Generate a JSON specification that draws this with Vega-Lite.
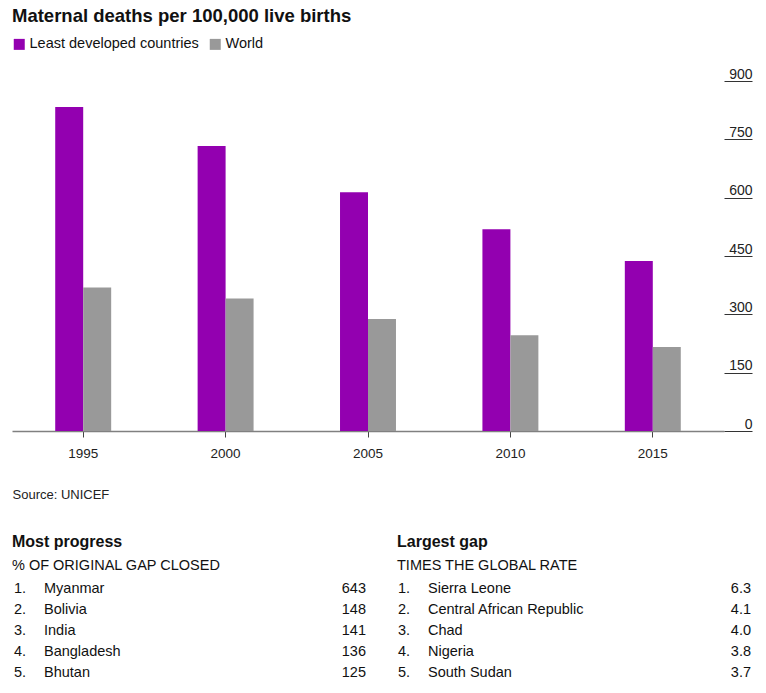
{
  "$schema": "https://vega.github.io/schema/vega-lite/v6.json",
  "padding": {"left": 12, "top": 6, "right": 0, "bottom": 0},
  "background": "white",
  "title": {"text": "Maternal deaths per 100,000 live births", "anchor": "start", "fontSize": 18.5, "fontWeight": "bold", "color": "#111111", "offset": 12},
  "config": {
    "font": "Liberation Sans",
    "view": {"stroke": null},
    "legend": {"symbolType": "square", "symbolSize": 121, "symbolStrokeWidth": 0, "labelFontSize": 14.5, "labelColor": "#111111", "labelOffset": 3, "labelLimit": 0, "columnPadding": 9, "offset": 16}
  },
  "spacing": 31,
  "vconcat": [
    {
      "width": 712,
      "height": 350,
      "data": {"values": [
        {"year": "1995", "series": "Least developed countries", "value": 833},
        {"year": "2000", "series": "Least developed countries", "value": 733},
        {"year": "2005", "series": "Least developed countries", "value": 614},
        {"year": "2010", "series": "Least developed countries", "value": 519},
        {"year": "2015", "series": "Least developed countries", "value": 437},
        {"year": "1995", "series": "World", "value": 369},
        {"year": "2000", "series": "World", "value": 341},
        {"year": "2005", "series": "World", "value": 288},
        {"year": "2010", "series": "World", "value": 246},
        {"year": "2015", "series": "World", "value": 216}
      ]},
      "mark": {"type": "bar"},
      "encoding": {
        "x": {"field": "year", "type": "nominal", "scale": {"paddingInner": 0.607, "paddingOuter": 0.3035},
          "axis": {"labelAngle": 0, "title": "Source: UNICEF", "labelFontSize": 13.5, "labelColor": "#222222", "tickSize": 6, "tickColor": "#444444", "domainColor": "#808080", "domainWidth": 1.5, "labelPadding": 9, "titleFontSize": 13, "titleFontWeight": "normal", "titleAnchor": "start", "titleAlign": "left", "titlePadding": 29, "titleColor": "#222222"}},
        "xOffset": {"field": "series", "type": "nominal", "sort": ["Least developed countries", "World"], "scale": {"paddingInner": 0, "paddingOuter": 0}},
        "y": {"field": "value", "type": "quantitative", "scale": {"domain": [0, 900], "nice": false},
          "axis": {"orient": "right", "values": [0, 150, 300, 450, 600, 750, 900], "grid": false, "domain": false, "tickSize": 28, "tickColor": "#333333", "labelAlign": "right", "labelPadding": 0, "labelBaseline": "alphabetic", "labelOffset": -3, "labelFontSize": 14, "labelColor": "#222222", "title": null}},
        "color": {"field": "series", "type": "nominal", "scale": {"domain": ["Least developed countries", "World"], "range": ["#9300b0", "#999999"]}, "legend": {"orient": "top", "title": null, "direction": "horizontal"}}
      }
    },
    {
      "spacing": 31,
      "hconcat": [
        {
          "width": 354,
          "height": 105,
          "title": {"text": "Most progress", "subtitle": "% OF ORIGINAL GAP CLOSED", "anchor": "start", "fontSize": 16, "fontWeight": "bold", "color": "#111111", "subtitleFontSize": 14.5, "subtitleColor": "#111111", "subtitlePadding": 9, "offset": 6},
          "data": {"values": [
            {"num": "1.", "country": "Myanmar", "value": "643"},
            {"num": "2.", "country": "Bolivia", "value": "148"},
            {"num": "3.", "country": "India", "value": "141"},
            {"num": "4.", "country": "Bangladesh", "value": "136"},
            {"num": "5.", "country": "Bhutan", "value": "125"}
          ]},
          "encoding": {"y": {"field": "num", "type": "ordinal", "axis": null, "scale": {"type": "point", "padding": 0.5}}},
          "layer": [
            {"mark": {"type": "text", "align": "left", "fontSize": 14.5, "color": "#111111"}, "encoding": {"x": {"datum": 2, "type": "quantitative", "scale": {"domain": [0, 354], "nice": false, "zero": false}, "axis": null}, "text": {"field": "num"}}},
            {"mark": {"type": "text", "align": "left", "fontSize": 14.5, "color": "#111111"}, "encoding": {"x": {"datum": 32, "type": "quantitative"}, "text": {"field": "country"}}},
            {"mark": {"type": "text", "align": "right", "fontSize": 14.5, "color": "#111111"}, "encoding": {"x": {"datum": 354, "type": "quantitative"}, "text": {"field": "value"}}}
          ]
        },
        {
          "width": 354,
          "height": 105,
          "title": {"text": "Largest gap", "subtitle": "TIMES THE GLOBAL RATE", "anchor": "start", "fontSize": 16, "fontWeight": "bold", "color": "#111111", "subtitleFontSize": 14.5, "subtitleColor": "#111111", "subtitlePadding": 9, "offset": 6},
          "data": {"values": [
            {"num": "1.", "country": "Sierra Leone", "value": "6.3"},
            {"num": "2.", "country": "Central African Republic", "value": "4.1"},
            {"num": "3.", "country": "Chad", "value": "4.0"},
            {"num": "4.", "country": "Nigeria", "value": "3.8"},
            {"num": "5.", "country": "South Sudan", "value": "3.7"}
          ]},
          "encoding": {"y": {"field": "num", "type": "ordinal", "axis": null, "scale": {"type": "point", "padding": 0.5}}},
          "layer": [
            {"mark": {"type": "text", "align": "left", "fontSize": 14.5, "color": "#111111"}, "encoding": {"x": {"datum": 1, "type": "quantitative", "scale": {"domain": [0, 354], "nice": false, "zero": false}, "axis": null}, "text": {"field": "num"}}},
            {"mark": {"type": "text", "align": "left", "fontSize": 14.5, "color": "#111111"}, "encoding": {"x": {"datum": 31, "type": "quantitative"}, "text": {"field": "country"}}},
            {"mark": {"type": "text", "align": "right", "fontSize": 14.5, "color": "#111111"}, "encoding": {"x": {"datum": 354, "type": "quantitative"}, "text": {"field": "value"}}}
          ]
        }
      ]
    }
  ]
}
